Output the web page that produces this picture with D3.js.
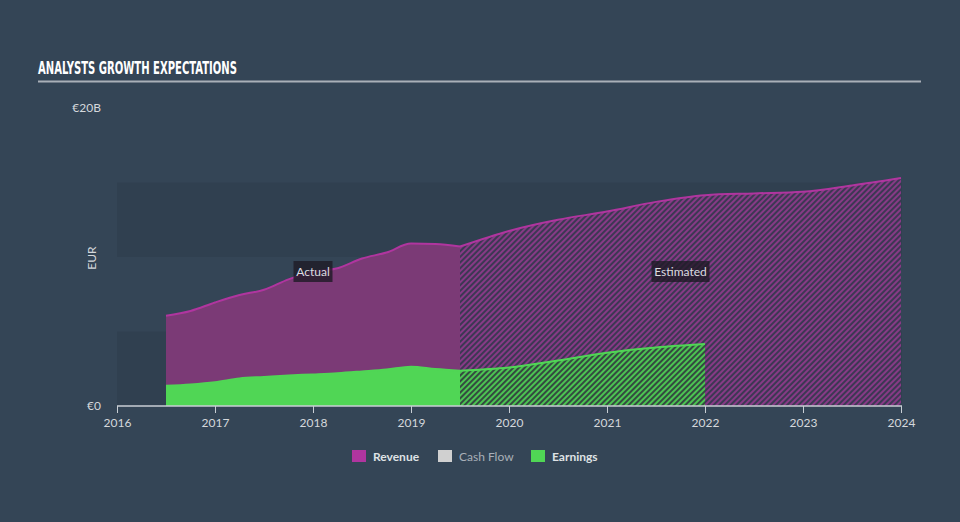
<!DOCTYPE html>
<html>
<head>
<meta charset="utf-8">
<script src="https://cdn.jsdelivr.net/npm/d3@7/dist/d3.min.js"></script>
<style>
  html, body { margin: 0; padding: 0; background: #344556; }
  svg { display: block; }
</style>
</head>
<body>
<svg id="chart" width="960" height="522"></svg>
<script>
// ---- Data (EUR billions) ----
const revenueActualX = [2016.5, 2016.75, 2017.0, 2017.25, 2017.5, 2017.75, 2018.0, 2018.25, 2018.5, 2018.75, 2019.0, 2019.25, 2019.5];
const revenueActualY = [6.06, 6.38, 6.95, 7.45, 7.8, 8.5, 9.0, 9.25, 9.9, 10.3, 10.9, 10.87, 10.7];
const revenueEstX = [2019.5, 2020.0, 2020.5, 2021.0, 2021.5, 2022.0, 2022.5, 2023.0, 2023.5, 2024.0];
const revenueEstY = [10.7, 11.75, 12.5, 13.05, 13.7, 14.15, 14.27, 14.38, 14.8, 15.3];
const earningsActualX = [2016.5, 2016.75, 2017.0, 2017.25, 2017.5, 2017.75, 2018.0, 2018.25, 2018.5, 2018.75, 2019.0, 2019.25, 2019.5];
const earningsActualY = [1.36, 1.45, 1.6, 1.85, 1.95, 2.05, 2.12, 2.2, 2.32, 2.45, 2.64, 2.48, 2.37];
const earningsEstX = [2019.5, 2020.0, 2020.5, 2021.0, 2021.5, 2022.0];
const earningsEstY = [2.37, 2.58, 3.05, 3.58, 3.93, 4.16];
const xTicks = [2016, 2017, 2018, 2019, 2020, 2021, 2022, 2023, 2024];
const yTickValues = [0, 20];
const yTickLabels = ["€0", "€20B"];
const bandEdges = [[0, 5], [10, 15]];
const legendItems = ["Revenue", "Cash Flow", "Earnings"];
const legendColors = ["#b0359f", "#d0d0d0", "#50d655"];

const svg = d3.select("#chart");
const x = d3.scaleLinear().domain([2016, 2024]).range([117, 901]);
const y = d3.scaleLinear().domain([0, 20]).range([406, 108]);

const defs = svg.append("defs");
function hatch(id, bg, fg) {
  const p = defs.append("pattern").attr("id", id)
    .attr("patternUnits", "userSpaceOnUse").attr("width", 4).attr("height", 4)
    .attr("patternTransform", "rotate(45)");
  p.append("rect").attr("width", 4).attr("height", 4).attr("fill", bg);
  p.append("rect").attr("width", 2).attr("height", 4).attr("fill", fg);
}
hatch("revHatch", "#3c3853", "#873a86");
hatch("earnHatch", "#344a40", "#4cc452");

// Title
svg.append("text").attr("x", 38).attr("y", 74)
  .attr("fill", "#ffffff").attr("font-family", "'Liberation Sans Narrow','DejaVu Sans Condensed',sans-serif")
  .attr("font-weight", "bold").attr("font-size", 18)
  .attr("textLength", 199).attr("lengthAdjust", "spacingAndGlyphs")
  .text("ANALYSTS GROWTH EXPECTATIONS");
svg.append("line").attr("x1", 38).attr("x2", 921).attr("y1", 81.5).attr("y2", 81.5)
  .attr("stroke", "#a9b0b8").attr("stroke-width", 2);

// Background bands
svg.append("g").selectAll("rect").data(bandEdges).join("rect")
  .attr("x", x(2016)).attr("width", x(2024) - x(2016) + 1)
  .attr("y", d => y(d[1])).attr("height", d => y(d[0]) - y(d[1]))
  .attr("fill", "#304050");

// Areas
const area = d3.area().x(d => x(d[0])).y0(y(0)).y1(d => y(d[1])).curve(d3.curveMonotoneX);
const line = d3.line().x(d => x(d[0])).y(d => y(d[1])).curve(d3.curveMonotoneX);
const zip = (a, b) => a.map((v, i) => [v, b[i]]);
const revA = zip(revenueActualX, revenueActualY);
const revE = zip(revenueEstX, revenueEstY);
const earnA = zip(earningsActualX, earningsActualY);
const earnE = zip(earningsEstX, earningsEstY);

svg.append("path").attr("d", area(revA)).attr("fill", "#7b3a76");
svg.append("path").attr("d", area(revE)).attr("fill", "url(#revHatch)");
svg.append("path").attr("d", line(revA)).attr("fill", "none").attr("stroke", "#b0359f").attr("stroke-width", 2);
svg.append("path").attr("d", line(revE)).attr("fill", "none").attr("stroke", "#b0359f").attr("stroke-width", 2);

svg.append("path").attr("d", area(earnA)).attr("fill", "#50d655");
svg.append("path").attr("d", area(earnE)).attr("fill", "url(#earnHatch)");
svg.append("path").attr("d", line(earnA)).attr("fill", "none").attr("stroke", "#50d655").attr("stroke-width", 2);
svg.append("path").attr("d", line(earnE)).attr("fill", "none").attr("stroke", "#50d655").attr("stroke-width", 2);

// X axis
const xAxis = d3.axisBottom(x).tickValues(xTicks).tickFormat(d3.format("d")).tickSize(7).tickSizeOuter(0);
const gx = svg.append("g").attr("transform", `translate(0,${y(0)})`).call(xAxis);
gx.select(".domain").attr("stroke", "#c8ced4").attr("stroke-width", 1.5)
  .attr("d", `M${x(2016)},0H${x(2024) + 1}`);
gx.selectAll(".tick line").attr("stroke", "#c8ced4");
gx.selectAll(".tick text").attr("fill", "#d4d8dc").attr("font-family", "Lato, sans-serif")
  .attr("font-size", 12).attr("dy", "0.9em");

// Y labels
svg.append("g").selectAll("text").data(yTickValues).join("text")
  .attr("x", 101).attr("y", d => y(d)).attr("dy", "0.35em").attr("text-anchor", "end")
  .attr("fill", "#d4d8dc").attr("font-family", "Lato, sans-serif").attr("font-size", 12)
  .text((d, i) => yTickLabels[i]);
svg.append("text").attr("transform", `translate(96,${y(10) + 1}) rotate(-90)`)
  .attr("text-anchor", "middle").attr("fill", "#d4d8dc").attr("font-family", "Lato, sans-serif")
  .attr("font-size", 12).text("EUR");

// Region labels
function regionLabel(cx, text, w) {
  const g = svg.append("g");
  g.append("rect").attr("x", cx - w / 2).attr("y", 261).attr("width", w).attr("height", 21)
    .attr("fill", "#1e1a26").attr("fill-opacity", 0.8);
  g.append("text").attr("x", cx).attr("y", 275.5).attr("text-anchor", "middle")
    .attr("fill", "#dcdce0").attr("font-family", "Lato, sans-serif").attr("font-size", 12).text(text);
}
regionLabel((x(revenueActualX[0]) + x(revenueActualX[revenueActualX.length - 1])) / 2, "Actual", 39);
regionLabel((x(revenueEstX[0]) + x(revenueEstX[revenueEstX.length - 1])) / 2, "Estimated", 58);

// Legend
const legendX = [352, 438, 531];
const lg = svg.append("g");
legendItems.forEach((name, i) => {
  lg.append("rect").attr("x", legendX[i]).attr("y", 450).attr("width", 14).attr("height", 12)
    .attr("fill", legendColors[i]);
  lg.append("text").attr("x", legendX[i] + 21).attr("y", 460.5)
    .attr("fill", i === 1 ? "#a9b0b8" : "#dfe2e5").attr("font-family", "Lato, sans-serif")
    .attr("font-size", 12).attr("font-weight", i === 1 ? "normal" : "bold").text(name);
});
</script>
</body>
</html>
